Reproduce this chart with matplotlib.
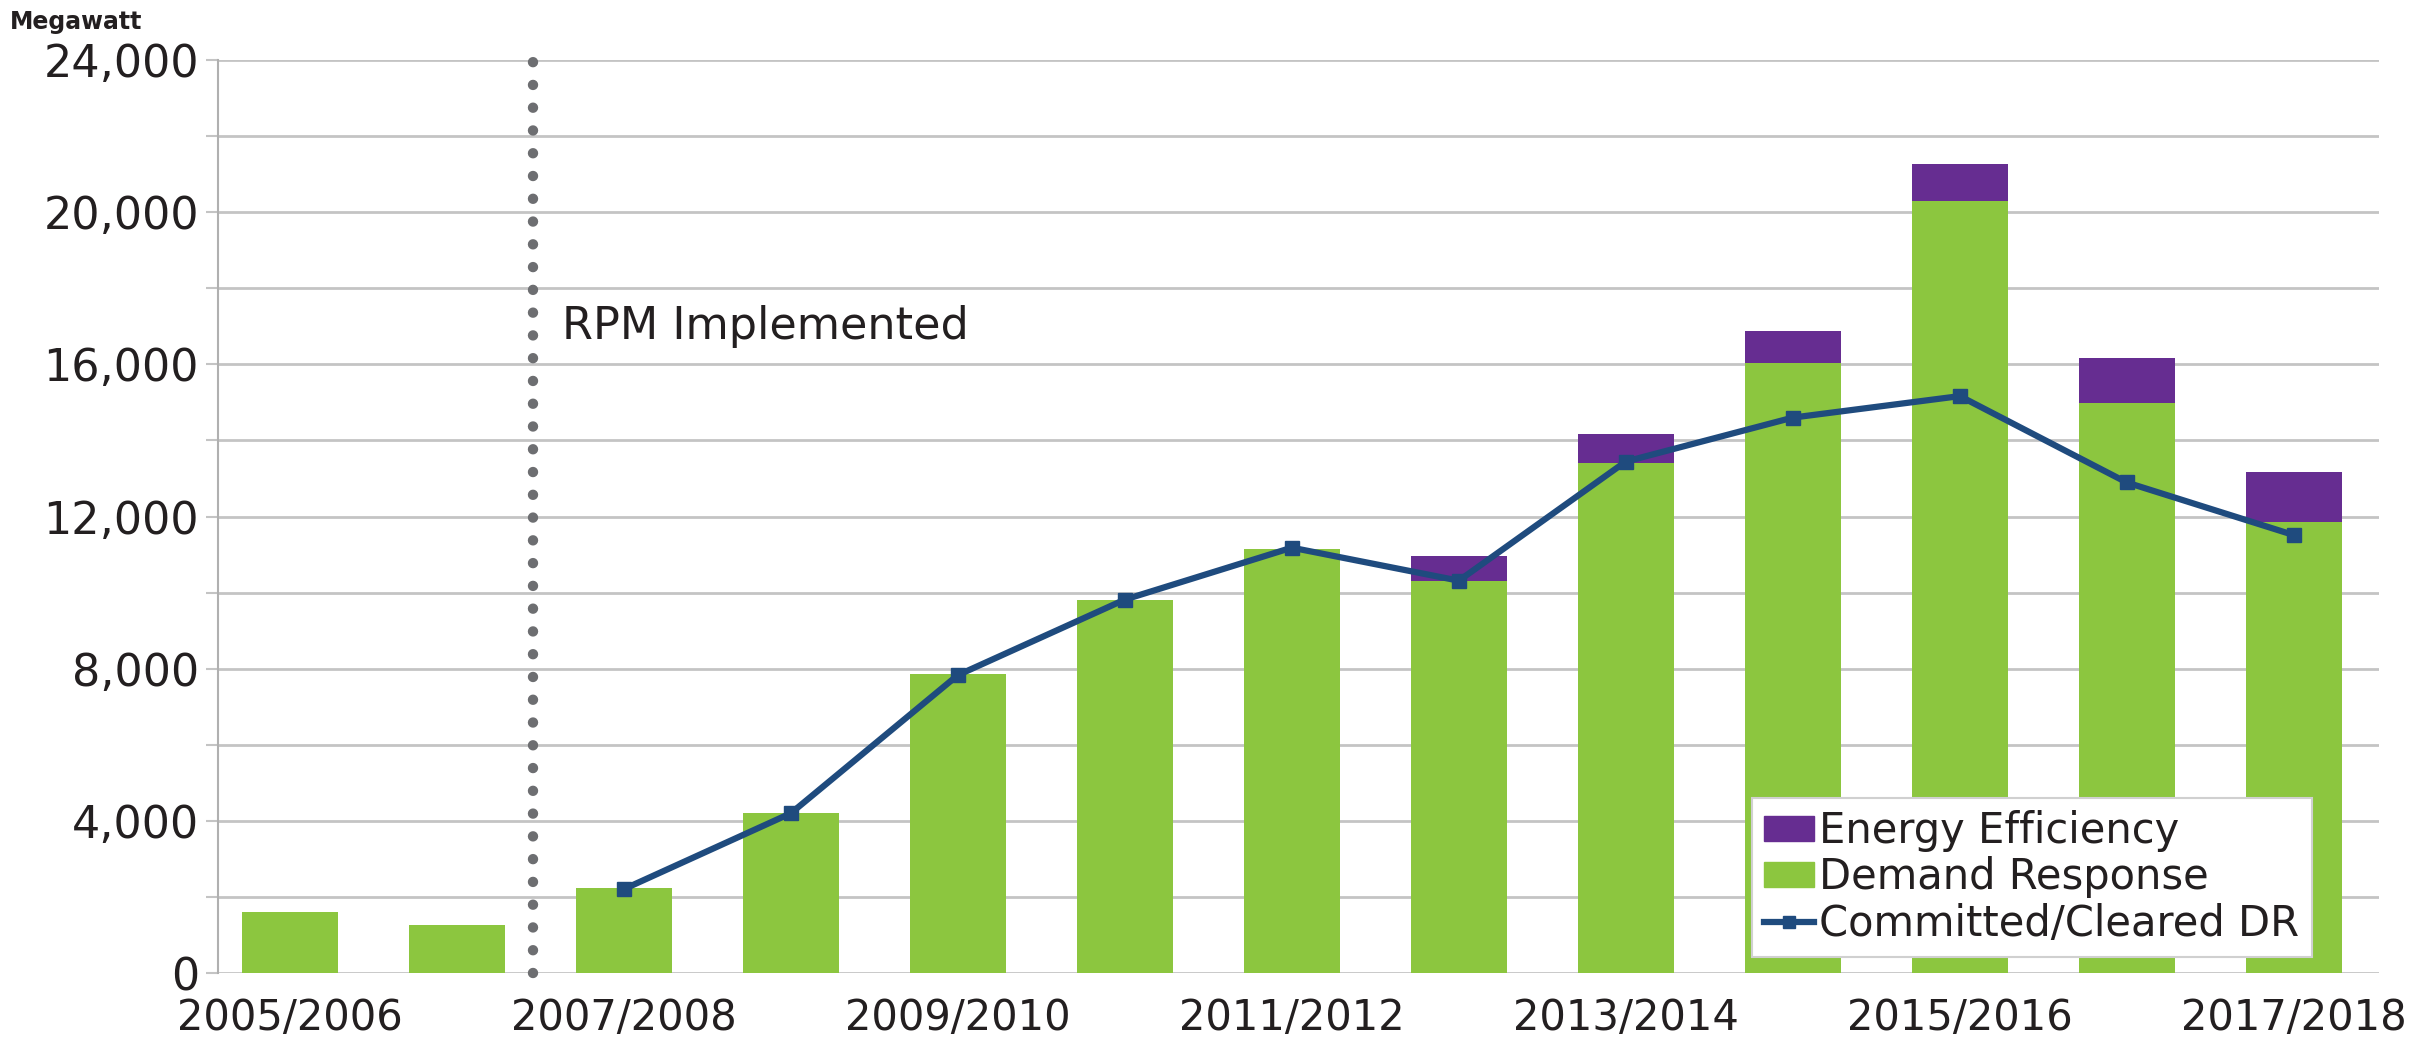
import numpy as np
import matplotlib
matplotlib.use("Agg")
import matplotlib.pyplot as plt
from matplotlib.patches import Patch
from matplotlib.lines import Line2D

plt.rcParams['font.family'] = ['DejaVu Sans']

# delivery years
years = ["2005/2006", "2006/2007", "2007/2008", "2008/2009", "2009/2010", "2010/2011",
         "2011/2012", "2012/2013", "2013/2014", "2014/2015", "2015/2016", "2016/2017",
         "2017/2018"]
tick_labels = ["2005/2006", "", "2007/2008", "", "2009/2010", "", "2011/2012", "",
               "2013/2014", "", "2015/2016", "", "2017/2018"]

demand_response = [1609, 1252, 2222, 4199, 7848, 9816, 11155, 10313, 13401, 16026, 20290, 14971, 11844]
energy_efficiency = [0, 0, 0, 0, 0, 0, 0, 656, 779, 849, 967, 1187, 1321]
committed_dr = [np.nan, np.nan, 2205, 4199, 7830, 9816, 11181, 10313, 13445, 14600, 15165, 12894, 11512]

GREEN = "#8cc63f"
PURPLE = "#662d91"
NAVY = "#1f4b7e"
GRID = "#c4c4c4"
TXT = "#231f20"

fig = plt.figure(figsize=(24.33, 10.38), dpi=100)
ax = fig.add_axes([0.0896, 0.0626, 0.8882, 0.8796])

x = np.arange(len(years))
w = 0.575
ax.bar(x, demand_response, w, color=GREEN, zorder=2)
ax.bar(x, energy_efficiency, w, bottom=demand_response, color=PURPLE, zorder=2)
ax.plot(x, committed_dr, color=NAVY, lw=4.5, marker='s', ms=10, zorder=4)

# RPM start marker
ax.plot([1.455, 1.455], [0, 24000], color="#6d6e71", lw=7.5,
        linestyle=(0, (0.001, 2.185)), dash_capstyle='round', zorder=3, clip_on=False)
ax.text(1.63, 17000, "RPM Implemented", fontsize=32, color=TXT, va='center', ha='left')

ax.set_xlim(-0.43, 12.51)
ax.set_ylim(0, 24000)
ax.set_yticks(np.arange(0, 24001, 2000))
ax.set_yticklabels([f"{v:,}" if v % 4000 == 0 else "" for v in range(0, 24001, 2000)])
ax.set_xticks(x)
ax.set_xticklabels(tick_labels)
ax.grid(axis='y', color=GRID, lw=2)
ax.set_axisbelow(True)

for s in ['top', 'right', 'bottom']:
    ax.spines[s].set_visible(False)
ax.spines['left'].set_color("#b0b0b0")
ax.spines['left'].set_linewidth(1.5)

ax.tick_params(axis='y', length=8.6, width=1.5, color=GRID, labelsize=32, labelcolor=TXT, pad=5)
ax.tick_params(axis='x', length=0, labelsize=30, labelcolor=TXT, pad=17)

fig.text(0.004, 0.972, "Megawatt", fontsize=17, fontweight='bold', color=TXT, va='baseline')

handles = [Patch(color=PURPLE), Patch(color=GREEN),
           Line2D([], [], color=NAVY, lw=4.5, marker='s', ms=8)]
leg = ax.legend(handles, ["Energy Efficiency", "Demand Response", "Committed/Cleared DR"],
                loc='lower right', bbox_to_anchor=(0.969, 0.0175), fontsize=30,
                frameon=True, fancybox=False, framealpha=1, edgecolor="#d0d0d0",
                handlelength=1.2, handleheight=0.55, handletextpad=0.12,
                labelspacing=0.1, borderpad=0.3, borderaxespad=0)
leg.get_frame().set_linewidth(1.5)
for t in leg.get_texts():
    t.set_color(TXT)
leg.set_zorder(5)

fig.savefig("out.png", dpi=100)
